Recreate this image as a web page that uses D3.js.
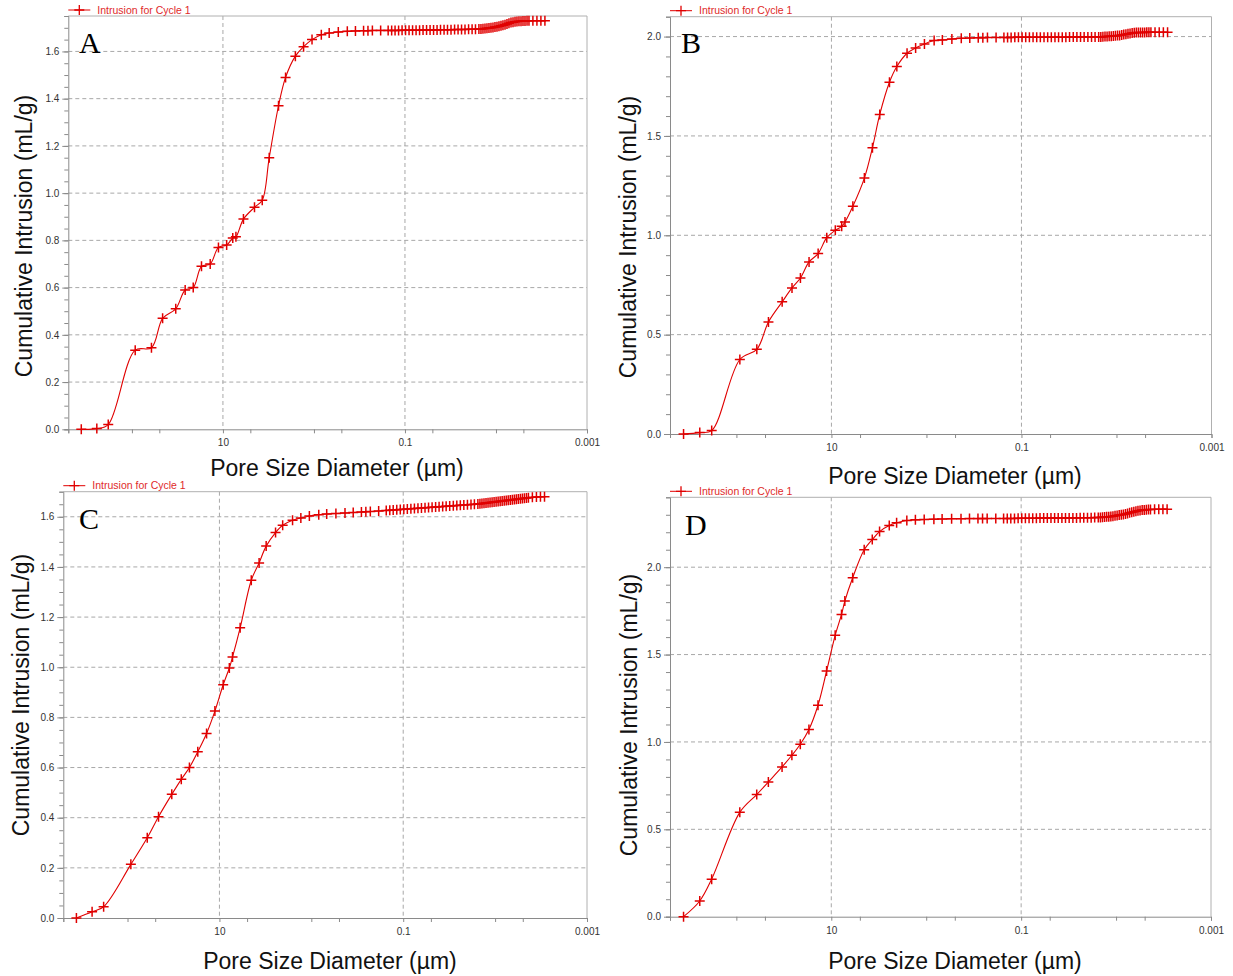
<!DOCTYPE html>
<html>
<head>
<meta charset="utf-8">
<script src="https://cdn.jsdelivr.net/npm/d3@7"></script>
<style>
  body { margin: 0; background: #fff; }
  svg { display: block; font-family: "Liberation Sans", Arial, sans-serif; }
</style>
</head>
<body>
<div id="chart"></div>
<script>
// Pore size diameters (µm) - same pressure table for all four samples
const diameters = [
  360, 243, 182, 92, 61, 46, 33, 26, 21.2, 17.2, 13.8, 11.2, 9.1, 7.8, 7.2, 5.95, 4.5, 3.7, 3.1,
  2.45, 2.05, 1.6, 1.3, 1.05, 0.83, 0.68, 0.54, 0.43, 0.35, 0.285, 0.255, 0.228, 0.185,
  0.153, 0.14, 0.1285, 0.1175, 0.1076, 0.0985, 0.0902, 0.0825, 0.0755, 0.0691, 0.0633, 0.0579,
  0.053, 0.0485, 0.0444, 0.0407, 0.0372, 0.0341, 0.0312, 0.0285, 0.0261, 0.0239, 0.0219, 0.02,
  0.0183, 0.0168, 0.0154,
  0.01462, 0.0139, 0.01321, 0.01256, 0.01194, 0.01135, 0.01079, 0.01026, 0.00975, 0.00927,
  0.00881, 0.00838, 0.00796, 0.00757, 0.0072, 0.00684, 0.0065, 0.00618, 0.00588, 0.00559,
  0.00531, 0.00505, 0.0048, 0.00456, 0.00434,
  0.00393, 0.00355, 0.00321, 0.0029
];

// Cumulative intrusion (mL/g) for each sample
const volA = [
  0, 0.003, 0.02, 0.335, 0.345, 0.47, 0.51, 0.59, 0.6, 0.69, 0.7, 0.77, 0.78, 0.81, 0.815, 0.89, 0.94, 0.97, 1.15,
  1.37, 1.49, 1.58, 1.62, 1.65, 1.671, 1.678, 1.682, 1.685, 1.687, 1.688, 1.688, 1.689, 1.689,
  1.689, 1.689, 1.689, 1.689, 1.69, 1.69, 1.69, 1.69, 1.69, 1.69, 1.691, 1.691,
  1.691, 1.691, 1.691, 1.692, 1.692, 1.692, 1.692, 1.693, 1.693, 1.693, 1.693, 1.694,
  1.694, 1.694, 1.695,
  1.695, 1.696, 1.697, 1.698, 1.699, 1.7, 1.701, 1.703, 1.705, 1.707,
  1.709, 1.711, 1.713, 1.716, 1.719, 1.722, 1.724, 1.726, 1.727, 1.728,
  1.728, 1.729, 1.729, 1.73, 1.73,
  1.73, 1.73, 1.73, 1.73
];
const volB = [
  0, 0.007, 0.017, 0.375, 0.426, 0.564, 0.665, 0.735, 0.785, 0.866, 0.908, 0.988, 1.025, 1.045, 1.067, 1.146, 1.288, 1.441, 1.608,
  1.77, 1.849, 1.916, 1.943, 1.963, 1.98, 1.983, 1.988, 1.991, 1.993, 1.994, 1.994, 1.995, 1.995,
  1.995, 1.995, 1.995, 1.996, 1.996, 1.996, 1.996, 1.996, 1.996, 1.996, 1.997, 1.997,
  1.997, 1.997, 1.997, 1.997, 1.997, 1.997, 1.998, 1.998, 1.998, 1.998, 1.998, 1.998,
  1.998, 1.998, 1.998,
  1.998, 1.999, 2.0, 2.0, 2.001, 2.002, 2.003, 2.004, 2.005, 2.006,
  2.008, 2.01, 2.012, 2.014, 2.016, 2.018, 2.019, 2.02, 2.02, 2.021,
  2.021, 2.021, 2.022, 2.022, 2.022,
  2.022, 2.022, 2.022, 2.022
];
const volC = [
  0, 0.025, 0.045, 0.214, 0.32, 0.404, 0.493, 0.553, 0.6, 0.663, 0.736, 0.825, 0.93, 0.997, 1.041, 1.157, 1.347, 1.416, 1.483,
  1.537, 1.566, 1.586, 1.595, 1.603, 1.608, 1.611, 1.613, 1.615, 1.617, 1.619, 1.62, 1.621, 1.623,
  1.625, 1.626, 1.627, 1.628, 1.629, 1.63, 1.631, 1.632, 1.633, 1.634, 1.635, 1.636,
  1.637, 1.638, 1.639, 1.64, 1.641, 1.642, 1.643, 1.644, 1.645, 1.646, 1.647, 1.648,
  1.649, 1.65, 1.651,
  1.652, 1.653, 1.654, 1.655, 1.656, 1.657, 1.658, 1.659, 1.66, 1.661,
  1.662, 1.663, 1.664, 1.665, 1.666, 1.667, 1.668, 1.669, 1.67, 1.671,
  1.672, 1.673, 1.674, 1.675, 1.676,
  1.678, 1.679, 1.68, 1.68
];
const volD = [
  0, 0.09, 0.215, 0.597, 0.699, 0.771, 0.857, 0.924, 0.987, 1.071, 1.21, 1.406, 1.61, 1.73, 1.806, 1.94, 2.1, 2.158, 2.204,
  2.238, 2.254, 2.267, 2.271, 2.273, 2.275, 2.276, 2.277, 2.277, 2.278, 2.278, 2.278, 2.278, 2.279,
  2.279, 2.279, 2.279, 2.279, 2.28, 2.28, 2.28, 2.28, 2.28, 2.28, 2.281, 2.281,
  2.281, 2.281, 2.281, 2.281, 2.282, 2.282, 2.282, 2.282, 2.282, 2.283, 2.283, 2.283,
  2.283, 2.284, 2.284,
  2.285, 2.286, 2.287, 2.288, 2.289, 2.29, 2.292, 2.294, 2.296, 2.298,
  2.3, 2.302, 2.305, 2.308, 2.311, 2.314, 2.317, 2.32, 2.323, 2.325,
  2.327, 2.328, 2.329, 2.33, 2.33,
  2.331, 2.331, 2.332, 2.332
];

// Axis ticks
const xTicks = [500, 100, 50, 10, 5, 1, 0.5, 0.1, 0.05, 0.01, 0.005, 0.001];
const xLabels = { 10: "10", 0.1: "0.1", 0.001: "0.001" };
const xGrid = [10, 0.1];
const xDomain = [500, 0.001];

const seriesName = "Intrusion for Cycle 1";
const xTitle = "Pore Size Diameter (µm)";
const yTitle = "Cumulative Intrusion (mL/g)";

// Panel layout
const panels = [
  { letter: "A", vol: volA, left: 68.3, right: 587, top: 16, bottom: 429.3, yMax: 1.75, step: 0.2, minor: 0.05,
    letterX: 79, letterY: 53, yTitleX: 32, yTitleY: 236, xTitleX: 337, xTitleY: 476 },
  { letter: "B", vol: volB, left: 670, right: 1211.5, top: 16.7, bottom: 434, yMax: 2.1, step: 0.5, minor: 0.1,
    letterX: 681, letterY: 53, yTitleX: 636, yTitleY: 237, xTitleX: 955, xTitleY: 484 },
  { letter: "C", vol: volC, left: 63.3, right: 587, top: 491.7, bottom: 918, yMax: 1.7, step: 0.2, minor: 0.05,
    letterX: 79, letterY: 529, yTitleX: 29, yTitleY: 695, xTitleX: 330, xTitleY: 969 },
  { letter: "D", vol: volD, left: 670, right: 1211, top: 497.3, bottom: 916.7, yMax: 2.4, step: 0.5, minor: 0.1,
    letterX: 685, letterY: 535, yTitleX: 637, yTitleY: 715, xTitleX: 955, xTitleY: 969 }
];

const red = "#e00000";
const gridColor = "#a8a8a8";

const svg = d3.select("#chart")
  .append("svg")
  .attr("width", 1233)
  .attr("height", 976);

const plus = "M-5,0H5M0,-5V5";

panels.forEach((p) => {
  const x = d3.scaleLog().domain(xDomain).range([p.left, p.right]);
  const y = d3.scaleLinear().domain([0, p.yMax]).range([p.bottom, p.top]);
  const g = svg.append("g");

  const major = d3.range(0, Math.round(p.yMax / p.step) + 1).map((i) => +(i * p.step).toFixed(2))
    .filter((v) => v <= p.yMax);
  const minor = d3.range(0, Math.round(p.yMax / p.minor) + 1).map((i) => +(i * p.minor).toFixed(2))
    .filter((v) => v <= p.yMax);

  // Horizontal dashed grid
  g.selectAll("line.hgrid")
    .data(major.filter((v) => v > 0))
    .enter()
    .append("line")
    .attr("x1", p.left)
    .attr("x2", p.right)
    .attr("y1", (d) => y(d))
    .attr("y2", (d) => y(d))
    .attr("stroke", gridColor)
    .attr("stroke-dasharray", "4,3");

  // Vertical dashed grid
  g.selectAll("line.vgrid")
    .data(xGrid)
    .enter()
    .append("line")
    .attr("x1", (d) => x(d))
    .attr("x2", (d) => x(d))
    .attr("y1", p.top)
    .attr("y2", p.bottom)
    .attr("stroke", gridColor)
    .attr("stroke-dasharray", "4,3");

  // Frame top and right
  g.append("path")
    .attr("d", `M${p.left},${p.top}H${p.right}V${p.bottom}`)
    .attr("fill", "none")
    .attr("stroke", "#b0b0b0");

  // Y axis: minor then major ticks
  const yMinorAxis = g.append("g")
    .attr("transform", `translate(${p.left},0)`)
    .call(d3.axisLeft(y).tickValues(minor).tickSize(4).tickFormat(""));
  yMinorAxis.select(".domain").attr("stroke", "#8a8a8a");
  yMinorAxis.selectAll(".tick line").attr("stroke", "#8a8a8a");

  const yAxis = g.append("g")
    .attr("transform", `translate(${p.left},0)`)
    .call(d3.axisLeft(y).tickValues(major).tickSize(6).tickPadding(3).tickFormat(d3.format(".1f")));
  yAxis.select(".domain").remove();
  yAxis.selectAll(".tick line").attr("stroke", "#8a8a8a");
  yAxis.selectAll(".tick text")
    .attr("fill", "#333")
    .style("font-size", "10px")
    .style("font-family", "Liberation Sans, Arial, sans-serif");

  // X axis
  const xAxis = g.append("g")
    .attr("transform", `translate(0,${p.bottom})`)
    .call(d3.axisBottom(x).tickValues(xTicks).tickSize(4).tickPadding(6)
      .tickFormat((d) => xLabels[d] || ""));
  xAxis.select(".domain").attr("stroke", "#8a8a8a");
  xAxis.selectAll(".tick line").attr("stroke", "#8a8a8a");
  xAxis.selectAll(".tick text")
    .attr("fill", "#333")
    .style("font-size", "10px")
    .style("font-family", "Liberation Sans, Arial, sans-serif");

  // Curve
  const pts = diameters.map((d, i) => [d, p.vol[i]]);
  const line = d3.line()
    .x((d) => x(d[0]))
    .y((d) => y(d[1]))
    .curve(d3.curveCatmullRom.alpha(0.5));

  g.append("path")
    .datum(pts)
    .attr("d", line)
    .attr("fill", "none")
    .attr("stroke", red)
    .attr("stroke-width", 1.1);

  g.selectAll("path.mark")
    .data(pts)
    .enter()
    .append("path")
    .attr("class", "mark")
    .attr("transform", (d) => `translate(${x(d[0])},${y(d[1])})`)
    .attr("d", plus)
    .attr("stroke", red)
    .attr("stroke-width", 1.5);

  // Legend
  const ly = p.top - 6;
  g.append("line")
    .attr("x1", p.left)
    .attr("x2", p.left + 22)
    .attr("y1", ly)
    .attr("y2", ly)
    .attr("stroke", red);
  g.append("path")
    .attr("transform", `translate(${p.left + 11},${ly})`)
    .attr("d", plus)
    .attr("stroke", red)
    .attr("stroke-width", 1.3);
  g.append("text")
    .attr("x", p.left + 29)
    .attr("y", ly + 3.7)
    .attr("fill", "#e02a2a")
    .style("font-size", "10.5px")
    .text(seriesName);

  // Panel letter
  g.append("text")
    .attr("x", p.letterX)
    .attr("y", p.letterY)
    .style("font-family", "Liberation Serif, Times New Roman, serif")
    .style("font-size", "30px")
    .attr("fill", "#000")
    .text(p.letter);

  // Axis titles
  g.append("text")
    .attr("x", p.xTitleX)
    .attr("y", p.xTitleY)
    .attr("text-anchor", "middle")
    .style("font-size", "23px")
    .attr("fill", "#111")
    .text(xTitle);

  g.append("text")
    .attr("transform", `translate(${p.yTitleX},${p.yTitleY}) rotate(-90)`)
    .attr("text-anchor", "middle")
    .style("font-size", "23px")
    .attr("fill", "#111")
    .text(yTitle);
});
</script>
</body>
</html>
